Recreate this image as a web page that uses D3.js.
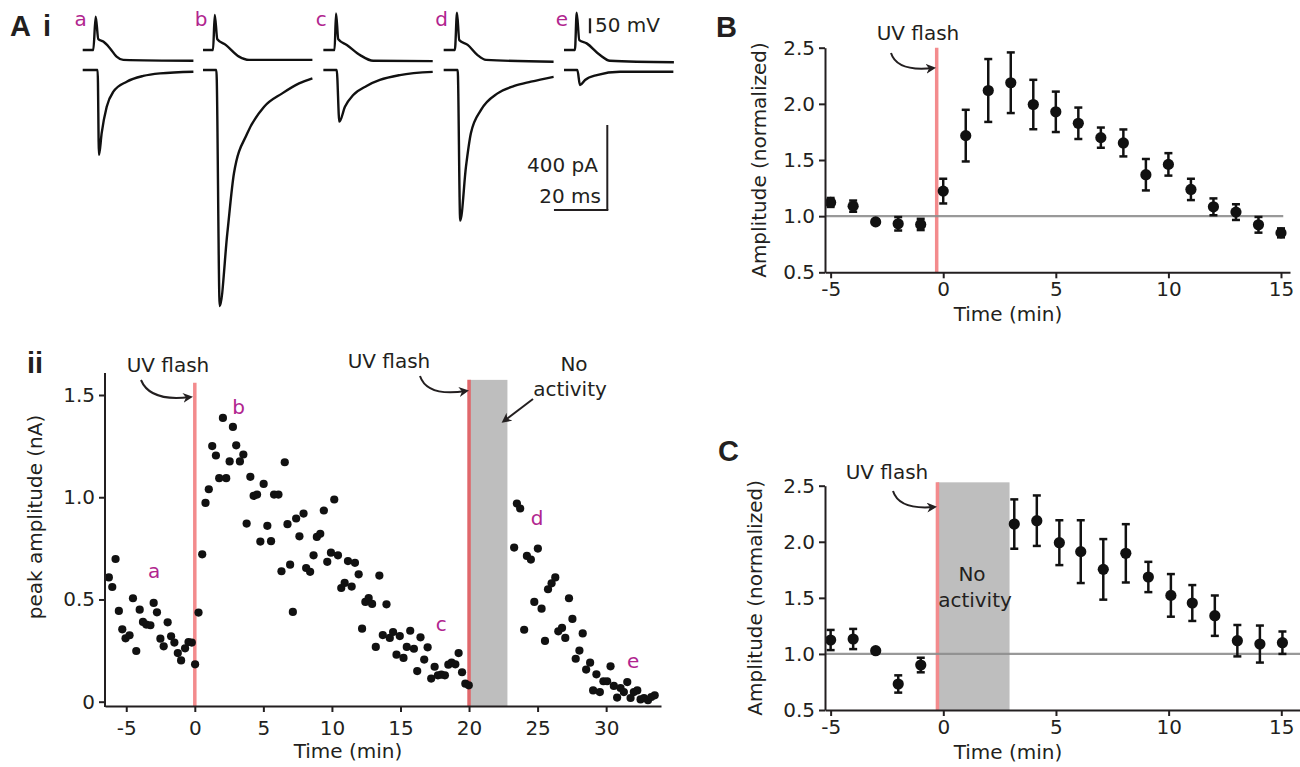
<!DOCTYPE html>
<html>
<head>
<meta charset="utf-8">
<script src="https://cdn.jsdelivr.net/npm/d3@7"></script>
<style>
    body { margin: 0; background: #fff; }
    svg text { font-family: "DejaVu Sans", sans-serif; font-size: 20px; fill: #231f20; }
    svg text.panel { font-family: "Liberation Sans", Arial, sans-serif; font-weight: bold; font-size: 29px; }
    svg text.trace-label { fill: #b1258f; }
</style>
</head>
<body>
<script>
    //---- data ----
    var traceNames = ['a', 'b', 'c', 'd', 'e'];

    // voltage traces, [ms, mV relative to baseline]
    var voltageTraces = {
        a: [[0, 0], [3.97, 0], [4.87, 111], [5.85, 36], [7.72, 28], [10.2, 6], [12.7, -22], [15.2, -33], [41.5, -36]],
        b: [[0, 0], [3.75, 0], [4.4, 117], [5.36, 36], [8.5, 17], [13.5, -22], [17.25, -33], [41, -33]],
        c: [[0, 0], [4.2, 0], [4.76, 122], [5.6, 36], [8.8, 17], [13.8, -17], [18.7, -36], [41, -37]],
        d: [[0, 0], [4.2, 0], [5.0, 124], [5.85, 33], [9.0, 17], [12.7, -17], [15.9, -33], [41.2, -39]],
        e: [[0, 0], [4.1, 0], [4.76, 124], [5.74, 33], [8.5, 22], [13.5, -17], [17.2, -36], [41.2, -41]]
    };

    // current traces, [ms, pA]
    var currentTraces = {
        a: [[0, 0], [5.6, 0], [6.1, -400], [7.1, -298], [9.0, -173], [11.5, -102], [16.5, -55], [22.7, -28], [29.0, -16], [41.5, -8]],
        b: [[0, 0], [5.0, 0], [6.26, -1111], [9.11, -768], [11.6, -486], [16.6, -298], [22.9, -173], [29.7, -110], [36, -63], [41, -39]],
        c: [[0, 0], [5.0, 0], [6.0, -243], [8.1, -173], [11.2, -118], [16.2, -75], [21.2, -47], [28.7, -24], [41, -9]],
        d: [[0, 0], [5.25, 0], [6.2, -709], [8.36, -455], [10.2, -298], [14.0, -188], [20.2, -110], [26.5, -75], [32.7, -55], [41.2, -32]],
        e: [[0, 0], [5.0, 0], [6.0, -71], [7.9, -47], [12.3, -24], [21.0, -8], [41, -8]]
    };

    // peak amplitude (nA) over time (min)
    var peakPoints = [
        [-6.27, 0.608], [-6.02, 0.561], [-5.78, 0.698], [-5.54, 0.444], [-5.29, 0.354], [-5.05, 0.310],
        [-4.76, 0.325], [-4.51, 0.506], [-4.27, 0.248], [-4.02, 0.450], [-3.78, 0.390], [-3.54, 0.377],
        [-3.24, 0.374], [-3.00, 0.483], [-2.76, 0.437], [-2.51, 0.308], [-2.27, 0.271], [-1.98, 0.388],
        [-1.73, 0.320], [-1.49, 0.289], [-1.24, 0.238], [-1.00, 0.202], [-0.71, 0.261], [-0.46, 0.292],
        [-0.22, 0.289], [0.02, 0.183], [0.27, 0.436], [0.54, 0.721], [0.78, 0.972], [1.02, 1.039],
        [1.27, 1.250], [1.54, 1.204], [1.78, 1.093], [2.05, 1.388], [2.29, 1.093], [2.54, 1.175],
        [2.78, 1.344], [3.02, 1.254], [3.29, 1.175], [3.54, 1.209], [3.78, 0.871], [4.05, 1.100],
        [4.29, 1.007], [4.54, 1.013], [4.78, 0.783], [5.02, 1.065], [5.29, 0.860], [5.56, 0.785],
        [5.78, 1.013], [6.10, 1.013], [6.32, 0.638], [6.56, 1.171], [6.76, 0.868], [6.95, 0.670],
        [7.15, 0.439], [7.39, 0.896], [7.63, 0.809], [7.93, 0.920], [8.12, 0.654], [8.41, 0.635],
        [8.66, 0.716], [8.90, 0.806], [9.15, 0.821], [9.41, 0.935], [9.66, 0.684], [9.93, 0.729],
        [10.17, 0.989], [10.44, 0.716], [10.68, 0.556], [10.93, 0.581], [11.17, 0.688], [11.44, 0.563],
        [11.68, 0.679], [11.95, 0.623], [12.20, 0.357], [12.44, 0.488], [12.68, 0.507], [12.93, 0.478],
        [13.20, 0.268], [13.46, 0.617], [13.71, 0.326], [13.98, 0.476], [14.22, 0.312], [14.46, 0.341],
        [14.71, 0.230], [14.95, 0.321], [15.22, 0.214], [15.46, 0.268], [15.71, 0.347], [15.98, 0.259],
        [16.22, 0.150], [16.46, 0.315], [16.73, 0.206], [16.98, 0.266], [17.24, 0.113], [17.49, 0.171],
        [17.73, 0.129], [17.98, 0.132], [18.24, 0.129], [18.49, 0.181], [18.73, 0.191], [19.00, 0.183],
        [19.24, 0.238], [19.49, 0.144], [19.73, 0.088], [19.98, 0.080],
        [23.29, 0.754], [23.49, 0.969], [23.73, 0.945], [24.02, 0.352], [24.22, 0.713], [24.51, 0.695],
        [24.76, 0.488], [25.02, 0.749], [25.29, 0.455], [25.54, 0.297], [25.76, 0.550], [26.02, 0.579],
        [26.29, 0.608], [26.51, 0.344], [26.78, 0.361], [27.02, 0.312], [27.29, 0.506], [27.54, 0.405],
        [27.78, 0.210], [28.05, 0.250], [28.29, 0.334], [28.54, 0.157], [28.83, 0.191], [29.05, 0.055],
        [29.29, 0.134], [29.54, 0.047], [29.80, 0.100], [30.07, 0.100], [30.32, 0.173], [30.56, 0.077],
        [30.80, 0.020], [31.05, 0.067], [31.29, 0.047], [31.54, 0.096], [31.78, 0.018], [32.02, 0.047],
        [32.27, 0.055], [32.51, 0.011], [32.76, 0.018], [33.05, 0.007], [33.29, 0.023], [33.54, 0.031]
    ];
    // where the letters a-e sit in Aii
    var peakLabels = [['a', -2.97, 0.64], ['b', 3.2, 1.44], ['c', 17.97, 0.38], ['d', 24.96, 0.90], ['e', 31.97, 0.20]];

    var flashTimesA = [0, 20];
    var noActivityA = [20.06, 22.8];

    // B: normalized amplitude, mean and sem
    var bTime = [-5, -4, -3, -2, -1, 0, 1, 2, 3, 4, 5, 6, 7, 8, 9, 10, 11, 12, 13, 14, 15];
    var bMean = [1.122, 1.089, 0.949, 0.932, 0.926, 1.223, 1.717, 2.119, 2.188, 1.994, 1.929, 1.827, 1.699, 1.652, 1.369, 1.461, 1.238, 1.083, 1.036, 0.923, 0.851];
    var bErr = [0.04, 0.05, 0.02, 0.06, 0.05, 0.11, 0.23, 0.28, 0.27, 0.22, 0.18, 0.14, 0.09, 0.12, 0.14, 0.10, 0.095, 0.075, 0.07, 0.07, 0.04];
    var flashTimeB = -0.29;

    // C: normalized amplitude with activity blocked after flash
    var cTime = [-5, -4, -3, -2, -1, 3.15, 4.15, 5.15, 6.1, 7.1, 8.1, 9.1, 10.1, 11.05, 12.05, 13.05, 14.05, 15.05];
    var cMean = [1.124, 1.133, 1.029, 0.732, 0.901, 2.158, 2.188, 1.992, 1.912, 1.754, 1.897, 1.686, 1.522, 1.454, 1.341, 1.118, 1.088, 1.100];
    var cErr = [0.09, 0.09, 0.02, 0.077, 0.065, 0.22, 0.225, 0.20, 0.28, 0.27, 0.26, 0.135, 0.19, 0.16, 0.18, 0.14, 0.165, 0.10];
    var noActivityC = [-0.26, 2.94];

    var aiiXTicks = [-5, 0, 5, 10, 15, 20, 25, 30];
    var aiiYTicks = [0, 0.5, 1.0, 1.5];
    var normXTicks = [-5, 0, 5, 10, 15];
    var normYTicks = [0.5, 1.0, 1.5, 2.0, 2.5];

    //---- colours ----
    var ink = '#231f20';
    var dotColor = '#111';
    var flashRed = '#f38b8d';
    var flashRedDark = '#e0676b';
    var bandGray = '#bebebe';
    var refGray = '#8e8e8e';

    var svg = d3.select('body')
        .append('svg')
        .attr('width', 1300)
        .attr('height', 767);

    svg.append('defs')
        .append('marker')
        .attr('id', 'arrowhead')
        .attr('viewBox', '0 0 10 10')
        .attr('refX', 7)
        .attr('refY', 5)
        .attr('markerWidth', 5)
        .attr('markerHeight', 5)
        .attr('orient', 'auto')
        .append('path')
        .attr('d', 'M0,0 L10,5 L0,10 L3,5 Z')
        .attr('fill', ink);

    function fmtOne(d) {
        return d === 0 ? '0' : d.toFixed(1);
    }

    function styleAxis(g) {
        g.attr('font-size', null).attr('font-family', null).attr('color', ink);
        g.selectAll('path, line').attr('stroke-width', 2);
    }

    function curvedArrow(x1, y1, cx, cy, x2, y2) {
        svg.append('path')
            .attr('d', 'M' + x1 + ',' + y1 + ' Q' + cx + ',' + cy + ' ' + x2 + ',' + y2)
            .attr('fill', 'none')
            .attr('stroke', ink)
            .attr('stroke-width', 2)
            .attr('marker-end', 'url(#arrowhead)');
    }

    function label(txt, x, y, anchor) {
        return svg.append('text')
            .attr('x', x)
            .attr('y', y)
            .attr('text-anchor', anchor || 'middle')
            .text(txt);
    }

    //---- panel letters ----
    svg.append('text').attr('class', 'panel').attr('x', 10).attr('y', 36).text('A');
    svg.append('text').attr('class', 'panel').attr('x', 43).attr('y', 36).text('i');
    svg.append('text').attr('class', 'panel').attr('x', 27).attr('y', 373).text('ii');
    svg.append('text').attr('class', 'panel').attr('x', 716).attr('y', 37).text('B');
    svg.append('text').attr('class', 'panel').attr('x', 718).attr('y', 461).text('C');

    //---- Ai: example traces ----
    var msScale = d3.scaleLinear().domain([0, 41.5]).range([0, 110.7]);
    var traceStart = d3.scalePoint().domain(traceNames).range([82.7, 564]);
    var mvScale = d3.scaleLinear().domain([0, 100]).range([50, 20]);
    var paScale = d3.scaleLinear().domain([0, -400]).range([70, 155]);

    var traceGroup = svg.append('g');
    traceNames.forEach(function (name) {
        var x0 = traceStart(name);
        var vLine = d3.line()
            .x(function (d) { return x0 + msScale(d[0]); })
            .y(function (d) { return mvScale(d[1]); })
            .curve(d3.curveMonotoneX);
        var iLine = d3.line()
            .x(function (d) { return x0 + msScale(d[0]); })
            .y(function (d) { return paScale(d[1]); })
            .curve(d3.curveMonotoneX);

        traceGroup.append('path')
            .attr('d', vLine(voltageTraces[name]))
            .attr('fill', 'none')
            .attr('stroke', dotColor)
            .attr('stroke-width', 2.4)
            .attr('stroke-linejoin', 'round');

        traceGroup.append('path')
            .attr('d', iLine(currentTraces[name]))
            .attr('fill', 'none')
            .attr('stroke', dotColor)
            .attr('stroke-width', 2.4)
            .attr('stroke-linejoin', 'round');

        traceGroup.append('text')
            .attr('class', 'trace-label')
            .attr('x', x0 - 2)
            .attr('y', 26)
            .attr('text-anchor', 'middle')
            .text(name);
    });

    // scale bars
    var barX = 607.3, barBottom = 210;
    svg.append('line')
        .attr('x1', 590).attr('x2', 590)
        .attr('y1', 18.3).attr('y2', 18.3 + mvScale(0) - mvScale(50))
        .attr('stroke', ink).attr('stroke-width', 2.3);
    label('50 mV', 595, 32, 'start');
    svg.append('line')
        .attr('x1', barX).attr('x2', barX)
        .attr('y1', barBottom - (paScale(-400) - paScale(0))).attr('y2', barBottom)
        .attr('stroke', ink).attr('stroke-width', 2);
    svg.append('line')
        .attr('x1', barX - msScale(20)).attr('x2', barX + 1)
        .attr('y1', barBottom).attr('y2', barBottom)
        .attr('stroke', ink).attr('stroke-width', 2);
    label('400 pA', 598, 172, 'end');
    label('20 ms', 601, 203, 'end');

    //---- Aii: peak amplitude over time ----
    var aiiX = d3.scaleLinear().domain([-6.55, 34]).range([105, 661]);
    var aiiY = d3.scaleLinear().domain([0, 1.5]).range([701.7, 395]);
    var aiiBase = 706;

    svg.append('rect')
        .attr('x', aiiX(noActivityA[0]))
        .attr('y', aiiY(1.574))
        .attr('width', aiiX(noActivityA[1]) - aiiX(noActivityA[0]))
        .attr('height', aiiBase - aiiY(1.574))
        .attr('fill', bandGray);

    svg.selectAll('.flash-a')
        .data(flashTimesA)
        .enter().append('line')
        .attr('class', 'flash-a')
        .attr('x1', function (d) { return aiiX(d); })
        .attr('x2', function (d) { return aiiX(d); })
        .attr('y1', function (d, i) { return aiiY(i ? 1.574 : 1.56); })
        .attr('y2', aiiBase)
        .attr('stroke', function (d, i) { return i ? flashRedDark : flashRed; })
        .attr('stroke-width', 3.5);

    svg.selectAll('.peak')
        .data(peakPoints)
        .enter().append('circle')
        .attr('class', 'peak')
        .attr('cx', function (d) { return aiiX(d[0]); })
        .attr('cy', function (d) { return aiiY(d[1]); })
        .attr('r', 4.1)
        .attr('fill', dotColor);

    svg.selectAll('.peak-label')
        .data(peakLabels)
        .enter().append('text')
        .attr('class', 'trace-label')
        .attr('x', function (d) { return aiiX(d[1]); })
        .attr('y', function (d) { return aiiY(d[2]); })
        .attr('text-anchor', 'middle')
        .attr('dy', '0.35em')
        .text(function (d) { return d[0]; });

    var aiiXAxis = svg.append('g')
        .attr('transform', 'translate(0,' + aiiBase + ')')
        .call(d3.axisBottom(aiiX).tickValues(aiiXTicks).tickSize(6).tickSizeOuter(0).tickPadding(9)
            .tickFormat(function (d) { return String(d); }));
    styleAxis(aiiXAxis);

    var aiiYAxis = svg.append('g')
        .attr('transform', 'translate(105,0)')
        .call(d3.axisLeft(aiiY).tickValues(aiiYTicks).tickSize(6).tickSizeOuter(0).tickPadding(4).tickFormat(fmtOne));
    aiiYAxis.select('.domain').remove();
    aiiYAxis.append('line')
        .attr('x1', 0).attr('x2', 0)
        .attr('y1', 373).attr('y2', aiiBase + 1)
        .attr('stroke', 'currentColor');
    styleAxis(aiiYAxis);

    label('Time (min)', 348, 758);
    svg.append('text')
        .attr('transform', 'translate(42,517) rotate(-90)')
        .attr('text-anchor', 'middle')
        .text('peak amplitude (nA)');

    label('UV flash', 168, 372);
    curvedArrow(141, 380, 150, 402, 190, 397);
    label('UV flash', 389, 368);
    curvedArrow(420, 376, 427, 397, 466, 391);
    label('No', 574, 371);
    label('activity', 570, 396);
    svg.append('line')
        .attr('x1', 533).attr('y1', 399)
        .attr('x2', 504).attr('y2', 421)
        .attr('stroke', ink).attr('stroke-width', 2)
        .attr('marker-end', 'url(#arrowhead)');

    //---- B and C: normalized amplitude ----
    function drawNormPanel(opts) {
        var x = d3.scaleLinear().domain(opts.xDomain).range(opts.xRange);
        var y = d3.scaleLinear().domain([0.5, 2.5]).range(opts.yRange);
        var base = opts.yRange[0];

        if (opts.band) {
            svg.append('rect')
                .attr('x', x(opts.band[0]))
                .attr('y', y(2.53))
                .attr('width', x(opts.band[1]) - x(opts.band[0]))
                .attr('height', base - y(2.53))
                .attr('fill', bandGray);
        }

        svg.append('line')
            .attr('x1', x(opts.flash)).attr('x2', x(opts.flash))
            .attr('y1', y(opts.flashTop)).attr('y2', base)
            .attr('stroke', flashRed)
            .attr('stroke-width', 3.5);

        // reference line at 1.0
        svg.append('line')
            .attr('x1', opts.xRange[0]).attr('x2', x(opts.refEnd))
            .attr('y1', y(1)).attr('y2', y(1))
            .attr('stroke', refGray)
            .attr('stroke-width', 2.2)
            .attr('opacity', 0.9);

        var pts = opts.time.map(function (t, i) {
            return {t: t, m: opts.mean[i], e: opts.err[i]};
        });

        var g = svg.append('g');
        var pt = g.selectAll('g')
            .data(pts)
            .enter().append('g');

        pt.append('line')
            .attr('x1', function (d) { return x(d.t); })
            .attr('x2', function (d) { return x(d.t); })
            .attr('y1', function (d) { return y(d.m + d.e); })
            .attr('y2', function (d) { return y(d.m - d.e); })
            .attr('stroke', dotColor)
            .attr('stroke-width', 2.5);
        [1, -1].forEach(function (s) {
            pt.append('line')
                .attr('x1', function (d) { return x(d.t) - 4; })
                .attr('x2', function (d) { return x(d.t) + 4; })
                .attr('y1', function (d) { return y(d.m + s * d.e); })
                .attr('y2', function (d) { return y(d.m + s * d.e); })
                .attr('stroke', dotColor)
                .attr('stroke-width', 2.5);
        });
        pt.append('circle')
            .attr('cx', function (d) { return x(d.t); })
            .attr('cy', function (d) { return y(d.m); })
            .attr('r', 5.6)
            .attr('fill', dotColor);

        var xAxis = svg.append('g')
            .attr('transform', 'translate(0,' + base + ')')
            .call(d3.axisBottom(x).tickValues(normXTicks).tickSize(6).tickSizeOuter(0).tickPadding(4)
                .tickFormat(function (d) { return String(d); }));
        styleAxis(xAxis);

        var yAxis = svg.append('g')
            .attr('transform', 'translate(' + opts.xRange[0] + ',0)')
            .call(d3.axisLeft(y).tickValues(normYTicks).tickSize(6).tickSizeOuter(0).tickPadding(4).tickFormat(fmtOne));
        styleAxis(yAxis);

        svg.append('text')
            .attr('transform', 'translate(' + opts.yLabelX + ',' + (opts.yRange[0] + opts.yRange[1]) / 2 + ') rotate(-90)')
            .attr('text-anchor', 'middle')
            .text('Amplitude (normalized)');
        label('Time (min)', 1008, base + 49);

        return {x: x, y: y};
    }

    drawNormPanel({
        xDomain: [-5.25, 15.4], xRange: [825, 1290], yRange: [272.3, 47.7],
        time: bTime, mean: bMean, err: bErr,
        flash: flashTimeB, flashTop: 2.5, refEnd: 15.1, yLabelX: 766
    });
    label('UV flash', 918, 40);
    curvedArrow(891, 53, 897, 72, 933, 68);

    drawNormPanel({
        xDomain: [-5.25, 15.83], xRange: [825, 1300], yRange: [710, 485.7],
        time: cTime, mean: cMean, err: cErr,
        band: noActivityC, flash: noActivityC[0], flashTop: 2.53, refEnd: 15.83, yLabelX: 762
    });
    label('UV flash', 887, 479);
    curvedArrow(893, 491, 899, 510, 934, 507);
    label('No', 972, 581);
    label('activity', 975, 607);
</script>
</body>
</html>
